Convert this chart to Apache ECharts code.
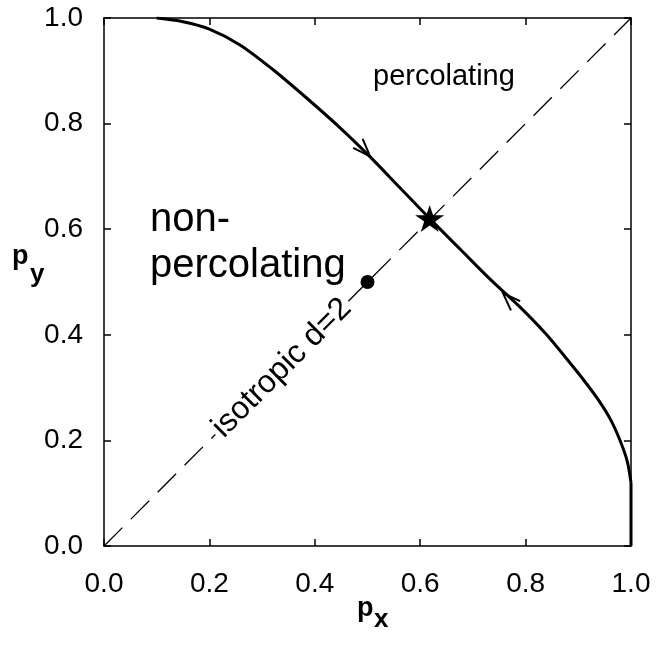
<!DOCTYPE html>
<html>
<head>
<meta charset="utf-8">
<script src="https://cdn.jsdelivr.net/npm/echarts@6/dist/echarts.min.js"></script>
<style>html,body{margin:0;padding:0;background:#fff}#c{width:656px;height:650px}</style>
</head>
<body>
<div id="c"></div>
<script>
// ---- data ----
var xTicks = [0.0, 0.2, 0.4, 0.6, 0.8, 1.0];
var yTicks = [0.0, 0.2, 0.4, 0.6, 0.8, 1.0];
var curvePx = [0.10, 0.150, 0.20, 0.258, 0.321, 0.385, 0.448, 0.505, 0.562, 0.619, 0.676, 0.732, 0.790, 0.840, 0.884, 0.912, 0.940, 0.962, 0.980, 0.993, 1.0];
var curvePy = [1.0, 0.993, 0.979, 0.949, 0.902, 0.848, 0.792, 0.737, 0.678, 0.619, 0.562, 0.506, 0.452, 0.400, 0.347, 0.312, 0.274, 0.238, 0.198, 0.160, 0.120];
var tailX = [1.0, 1.0];
var tailY = [0.120, 0.0];
var diagX = [0.0, 1.0];
var diagY = [0.0, 1.0];
var fixedPoint = [0.618, 0.618];
var isoPoint = [0.5, 0.5];
var arrowTipX = [0.505, 0.757];
var arrowTipY = [0.738, 0.479];
var labelIso = 'isotropic d=2';
var labelPerc = 'percolating';
var labelNon = 'non-\npercolating';

var FONT = 'Liberation Sans, Arial, sans-serif';
var curveData = curvePx.map(function (x, i) { return [x, curvePy[i]]; });
var tailData = tailX.map(function (x, i) { return [x, tailY[i]]; });
var diagData = diagX.map(function (x, i) { return [x, diagY[i]]; });
var arrowData = arrowTipX.map(function (x, i) { return [x, arrowTipY[i]]; });
var starPath = 'path://M100,0 L122.45,69.1 L195.1,69.1 L136.33,111.8 L158.78,180.9 L100,138.2 L41.22,180.9 L63.67,111.8 L4.9,69.1 L77.55,69.1 Z';

var chart = echarts.init(document.getElementById('c'), null, {renderer: 'canvas'});
var axisCommon = {
  type: 'value', min: 0, max: 1, interval: 0.2,
  axisLine: {show: true, onZero: false, lineStyle: {color: '#000', width: 1.5}},
  axisTick: {show: true, inside: true, length: 7, lineStyle: {color: '#000', width: 1.5}},
  splitLine: {show: false}
};
function lbl(v) { return v.toFixed(1); }
var option = {
  animation: false,
  backgroundColor: '#fff',
  grid: {left: 104, right: 25, top: 18, bottom: 104, containLabel: false},
  xAxis: [
    Object.assign({}, axisCommon, {position: 'bottom',
      axisLabel: {show: true, margin: 24, color: '#000', fontSize: 28, fontFamily: FONT, formatter: lbl}}),
    Object.assign({}, axisCommon, {position: 'top', axisLabel: {show: false}})
  ],
  yAxis: [
    Object.assign({}, axisCommon, {position: 'left',
      axisLabel: {show: true, margin: 21, color: '#000', fontSize: 28, fontFamily: FONT, formatter: lbl}}),
    Object.assign({}, axisCommon, {position: 'right', axisLabel: {show: false}})
  ],
  series: [
    {
      type: 'line', data: diagData, symbol: 'none', z: 2,
      lineStyle: {color: '#000', width: 1.3, type: [26, 12]}
    },
    {
      type: 'line', data: curveData, symbol: 'none', smooth: 0.3, z: 3,
      lineStyle: {color: '#000', width: 3}
    },
    {
      type: 'line', data: tailData, symbol: 'none', z: 3,
      lineStyle: {color: '#000', width: 3}
    },
    {
      type: 'custom', z: 4,
      data: arrowData,
      encode: {x: 0, y: 1},
      renderItem: function (params, api) {
        var tip = api.coord([api.value(0), api.value(1)]);
        var fp = api.coord(fixedPoint);
        var dx = fp[0] - tip[0], dy = fp[1] - tip[1];
        var len = Math.sqrt(dx * dx + dy * dy);
        var bx = -dx / len, by = -dy / len;
        var a = 20 * Math.PI / 180, L = 19;
        function rot(ang) {
          return [tip[0] + L * (bx * Math.cos(ang) - by * Math.sin(ang)),
                  tip[1] + L * (bx * Math.sin(ang) + by * Math.cos(ang))];
        }
        return {
          type: 'polyline',
          shape: {points: [rot(a), tip, rot(-a)]},
          style: {stroke: '#000', lineWidth: 2, fill: null}
        };
      }
    },
    {
      type: 'scatter', data: [isoPoint], symbol: 'circle', symbolSize: 14, z: 5,
      itemStyle: {color: '#000', opacity: 1}
    },
    {
      type: 'scatter', data: [fixedPoint], symbol: starPath, symbolSize: [29, 27], symbolOffset: [0, -1.3], z: 6,
      itemStyle: {color: '#000', opacity: 1}
    }
  ],
  graphic: [
    {type: 'text', x: 282, y: 368, rotation: Math.PI / 4, z: 10,
      style: {text: labelIso, font: '32px ' + FONT, fill: '#000', align: 'center', verticalAlign: 'middle',
        backgroundColor: '#fff', padding: [0, 3]}},
    {type: 'text', x: 373, y: 77, z: 10,
      style: {text: labelPerc, font: '29px ' + FONT, fill: '#000', align: 'left', verticalAlign: 'middle'}},
    {type: 'text', x: 150, y: 243, z: 10,
      style: {text: labelNon, font: '40px ' + FONT, lineHeight: 46, fill: '#000', align: 'left', verticalAlign: 'middle'}},
    {type: 'text', x: 12, y: 243, z: 10,
      style: {text: 'p', font: 'bold 27px ' + FONT, fill: '#000', align: 'left', verticalAlign: 'top'}},
    {type: 'text', x: 30, y: 262, z: 10,
      style: {text: 'y', font: 'bold 26px ' + FONT, fill: '#000', align: 'left', verticalAlign: 'top'}},
    {type: 'text', x: 357, y: 595, z: 10,
      style: {text: 'p', font: 'bold 27px ' + FONT, fill: '#000', align: 'left', verticalAlign: 'top'}},
    {type: 'text', x: 374, y: 607, z: 10,
      style: {text: 'x', font: 'bold 26px ' + FONT, fill: '#000', align: 'left', verticalAlign: 'top'}}
  ]
};
chart.setOption(option);
</script>
</body>
</html>
